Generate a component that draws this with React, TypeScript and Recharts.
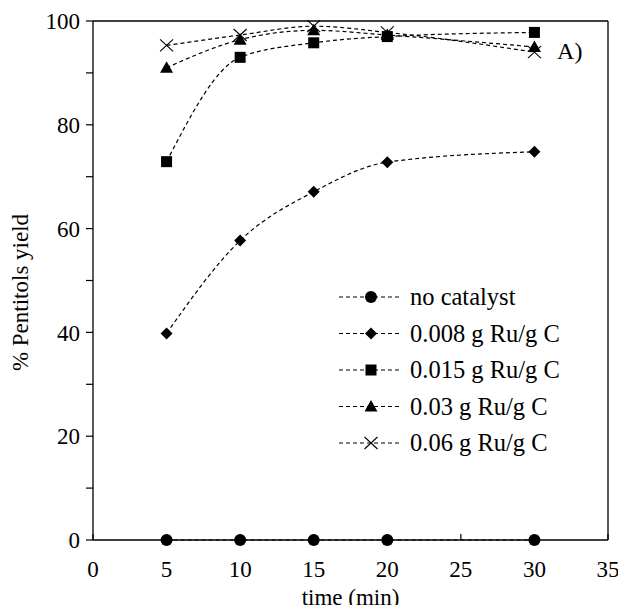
import React from 'react'
import { LineChart, Line, XAxis, YAxis, ReferenceLine, ReferenceDot } from 'recharts'

const times = [5, 10, 15, 20, 30]
const noCatalyst = [0, 0, 0, 0, 0]
const ru0008 = [39.8, 57.7, 67.1, 72.8, 74.8]
const ru0015 = [72.9, 93.0, 95.8, 97.0, 97.8]
const ru003 = [91.0, 96.4, 98.2, 97.3, 95.0]
const ru006 = [95.3, 97.3, 99.0, 97.8, 94.0]

const xTicks = [0, 5, 10, 15, 20, 25, 30, 35]
const yTicks = [0, 10, 20, 30, 40, 50, 60, 70, 80, 90, 100]

const series = [
  { key: 'none', name: 'no catalyst', shape: 'circle', values: noCatalyst },
  { key: 'r0008', name: '0.008 g Ru/g C', shape: 'diamond', values: ru0008 },
  { key: 'r0015', name: '0.015 g Ru/g C', shape: 'square', values: ru0015 },
  { key: 'r003', name: '0.03 g Ru/g C', shape: 'triangle', values: ru003 },
  { key: 'r006', name: '0.06 g Ru/g C', shape: 'cross', values: ru006 },
]

const data = times.map((t, i) => {
  const row: any = { t }
  series.forEach(s => { row[s.key] = s.values[i] })
  return row
})

const FONT = '"Liberation Serif", "Times New Roman", serif'

function Marker({ shape, cx, cy }: { shape: string; cx: number; cy: number }) {
  if (cx == null || cy == null) return null
  switch (shape) {
    case 'circle':
      return <circle cx={cx} cy={cy} r={6} fill="#000" />
    case 'diamond':
      return <polygon points={`${cx},${cy - 6} ${cx + 6},${cy} ${cx},${cy + 6} ${cx - 6},${cy}`} fill="#000" />
    case 'square':
      return <rect x={cx - 5.5} y={cy - 5.5} width={11} height={11} fill="#000" />
    case 'triangle':
      return <polygon points={`${cx},${cy - 6.5} ${cx + 6.5},${cy + 5} ${cx - 6.5},${cy + 5}`} fill="#000" />
    case 'cross':
      return (
        <g stroke="#000" strokeWidth={1.1}>
          <line x1={cx - 6.5} y1={cy - 6} x2={cx + 6.5} y2={cy + 6} />
          <line x1={cx - 6.5} y1={cy + 6} x2={cx + 6.5} y2={cy - 6} />
        </g>
      )
    default:
      return null
  }
}

function XTick(props: any) {
  const { x, y, payload } = props
  return (
    <g>
      <line x1={x} y1={y} x2={x} y2={y - 6} stroke="#000" strokeWidth={1.2} />
      <text x={x} y={y + 37} textAnchor="middle" fontSize={23} fontFamily={FONT} fill="#000">
        {payload.value}
      </text>
    </g>
  )
}

function LegendBox() {
  return (
    <svg width={270} height={185} style={{ position: 'absolute', left: 335, top: 280 }}>
      {series.map((s, i) => {
        const cy = 17 + i * 36.5
        return (
          <g key={s.key}>
            <line x1={4} y1={cy} x2={67} y2={cy} stroke="#000" strokeWidth={1.2} strokeDasharray="4 3" />
            <Marker shape={s.shape} cx={36} cy={cy} />
            <text x={75} y={cy + 8} fontSize={24.5} fontFamily={FONT} fill="#000">{s.name}</text>
          </g>
        )
      })}
    </svg>
  )
}

export default function App() {
  return (
    <div style={{ margin: -8, width: 626, height: 613, background: '#fff', position: 'relative' }}>
      <LineChart width={626} height={613} data={data} margin={{ top: 21, right: 18, left: 0, bottom: 0 }}>
        <XAxis
          dataKey="t"
          type="number"
          domain={[0, 35]}
          ticks={xTicks}
          tickSize={0}
          tickMargin={0}
          tickLine={false}
          tick={<XTick />}
          height={73}
          stroke="#000"
          strokeWidth={1.3}
          interval={0}
          label={(p: any) => (
            <text x={p.viewBox.x + p.viewBox.width / 2} y={605} textAnchor="middle" fontSize={23} fontFamily={FONT} fill="#000">
              time (min)
            </text>
          )}
        />
        <YAxis
          type="number"
          domain={[0, 100]}
          ticks={yTicks}
          interval={0}
          width={93}
          tickSize={7}
          tickMargin={6}
          tickFormatter={(v: number) => (v % 20 === 0 ? String(v) : '')}
          tick={{ fontSize: 23, fontFamily: FONT, fill: '#000' }}
          stroke="#000"
          strokeWidth={1.3}
          tickLine={{ stroke: '#000', strokeWidth: 1.2 }}
          label={(p: any) => {
            const cx = 20
            const cy = p.viewBox.y + p.viewBox.height / 2 + 12
            return (
              <text x={cx} y={cy} transform={`rotate(-90 ${cx} ${cy})`} textAnchor="middle" dominantBaseline="central" fontSize={23} fontFamily={FONT} fill="#000">
                % Pentitols yield
              </text>
            )
          }}
        />
        <ReferenceLine y={100} stroke="#000" strokeWidth={1.3} />
        <ReferenceLine x={35} stroke="#000" strokeWidth={1.3} />
        <ReferenceDot
          x={32.4}
          y={94.2}
          r={1}
          fill="none"
          stroke="none"
          label={(p: any) => (
            <text x={p.viewBox.x + p.viewBox.width / 2} y={p.viewBox.y + p.viewBox.height / 2 + 8} textAnchor="middle" fontSize={24} fontFamily={FONT} fill="#000">
              A)
            </text>
          )}
        />
        {series.map(s => (
          <Line
            key={s.key}
            dataKey={s.key}
            name={s.name}
            type="monotone"
            stroke="#000"
            strokeWidth={1.2}
            strokeDasharray="4 3"
            dot={(p: any) => <Marker key={`${s.key}-${p.index}`} shape={s.shape} cx={p.cx} cy={p.cy} />}
            activeDot={false}
            isAnimationActive={false}
          />
        ))}
      </LineChart>
      <LegendBox />
    </div>
  )
}
